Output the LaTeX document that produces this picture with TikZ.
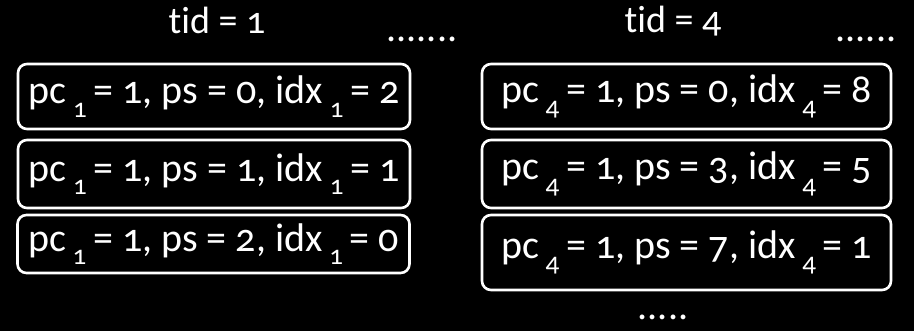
\documentclass[tikz,border=0pt]{standalone}
\usepackage{fontspec}
\setmainfont[Numbers=OldStyle,Ligatures={NoCommon}]{Carlito}
\newcommand{\sub}[1]{\,\raisebox{-0.34em}{\fontsize{27}{27}\selectfont #1}\,}
\begin{document}
\begin{tikzpicture}[x=1pt,y=-1pt,
  entry/.style={draw=white, line width=2.6pt, rounded corners=9pt, text=white,
    inner sep=0pt, font=\fontsize{40}{40}\selectfont, minimum width=392pt},
  title/.style={text=white, font=\fontsize{38}{38}\selectfont, inner sep=0pt, anchor=base},
  dots/.style={text=white, font=\fontsize{40}{40}\selectfont, inner sep=0pt, anchor=base}]
\fill[black] (0,0) rectangle (914,331);
\useasboundingbox (0,0) rectangle (914,331);
\node[title] (t1) at (217,34) {tid = 1};
\node[title] (t4) at (673,33) {tid = 4};
\node[dots] (d1) at (422,42) {.......};
\node[dots] (d2) at (866,42) {......};
\node[dots] (d3) at (663,320) {.....};
\node[entry, minimum height=65pt] (a1) at (214,96.5) {pc\sub{1}= 1, ps = 0, idx\sub{1}= 2};
\node[entry, minimum height=68pt] (a2) at (214,174) {pc\sub{1}= 1, ps = 1, idx\sub{1}= 1};
\node[entry, minimum height=58pt] (a3) at (213.5,244) {pc\sub{1}= 1, ps = 2, idx\sub{1}= 0};
\node[entry, minimum height=65pt, minimum width=409pt] (b1) at (686.5,96.5) {pc\sub{4}= 1, ps = 0, idx\sub{4}= 8};
\node[entry, minimum height=68pt, minimum width=409pt] (b2) at (686.5,174) {pc\sub{4}= 1, ps = 3, idx\sub{4}= 5};
\node[entry, minimum height=75pt, minimum width=409pt] (b3) at (686.5,252.5) {pc\sub{4}= 1, ps = 7, idx\sub{4}= 1};
\end{tikzpicture}
\end{document}
